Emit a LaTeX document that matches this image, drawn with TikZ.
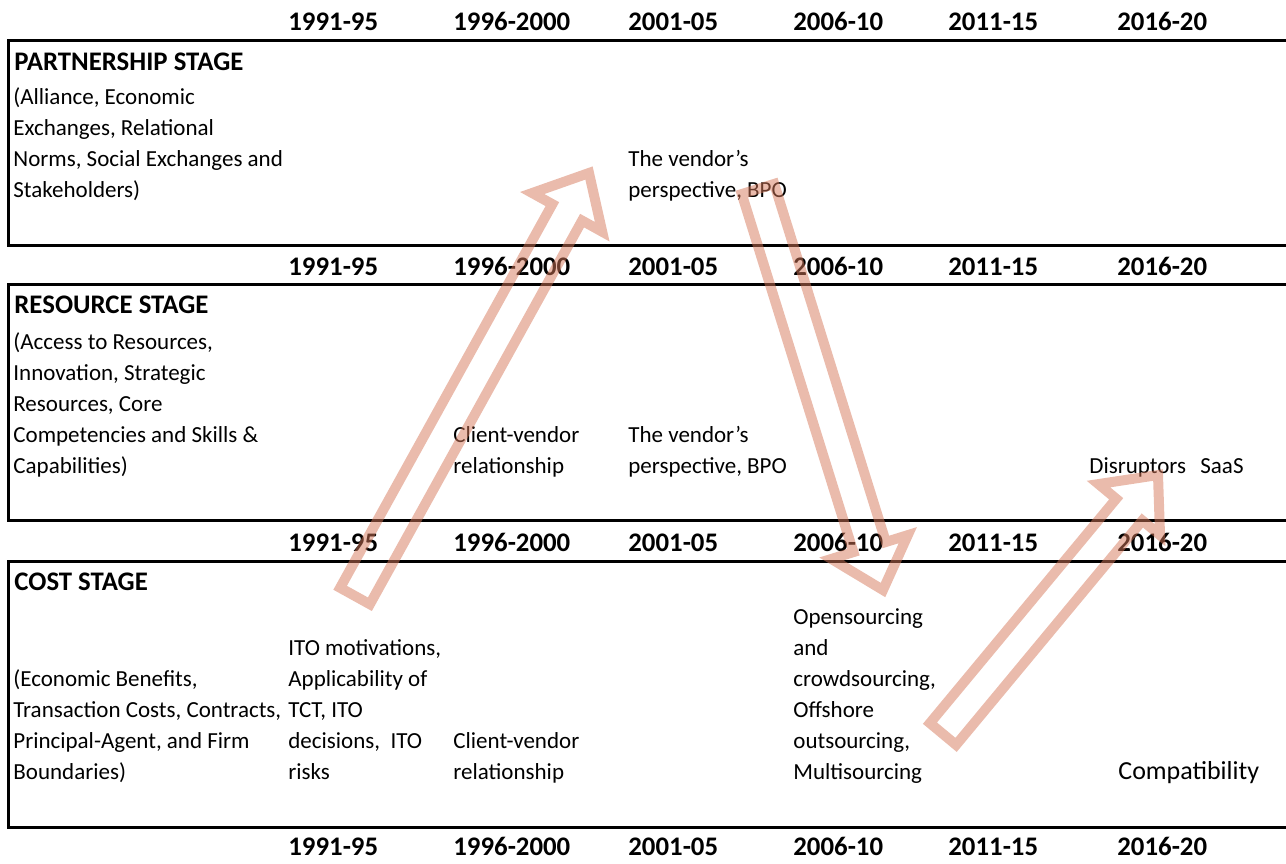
\documentclass[tikz,border=0pt]{standalone}
\usepackage{fontspec}
\setmainfont{Carlito}
\usetikzlibrary{calc}

\definecolor{arrowsalmon}{RGB}{214,120,90}

\tikzset{
  stagebox/.style={line width=1.5pt},
  yearlbl/.style={anchor=base west, inner sep=0pt, font=\fontsize{13.4}{16}\selectfont\bfseries},
  stagetitle/.style={anchor=base west, inner sep=0pt, font=\fontsize{13.4}{16}\selectfont\bfseries},
  celltext/.style={anchor=base west, inner sep=0pt, align=left, font=\fontsize{11.5}{15.5}\selectfont},
  flowarrow/.style={draw=arrowsalmon, draw opacity=0.5, line width=5pt, line join=miter}
}

% hollow block arrow from tail #1 to tip #2
\newcommand{\hollowarrow}[2]{%
  \path ($(#2)!22.5pt!(#1)$) coordinate (#1-base);
  \draw[flowarrow]
    ($(#1)!8.5pt!90:(#2)$) -- ($(#1-base)!8.5pt!90:(#2)$)
    -- ($(#1-base)!20pt!90:(#2)$) -- (#2)
    -- ($(#1-base)!20pt!-90:(#2)$) -- ($(#1-base)!8.5pt!-90:(#2)$)
    -- ($(#1)!8.5pt!-90:(#2)$) -- cycle;
}

\begin{document}
\begin{tikzpicture}[x=0.5pt, y=-0.5pt]
  \useasboundingbox (0,0) rectangle (1286,863);

  % stage boxes (open to the right)
  \draw[stagebox] (1286,40) -- (8,40) -- (8,245) -- (1286,245);
  \draw[stagebox] (1286,284) -- (8,284) -- (8,520) -- (1286,520);
  \draw[stagebox] (1286,561) -- (8,561) -- (8,827) -- (1286,827);

  % year rows
  \foreach \ry in {30,275,551,855}{
    \foreach \yr/\cx [count=\i] in {1991-95/288, 1996-2000/453, 2001-05/628,
                                    2006-10/793, 2011-15/948, 2016-20/1117}
      \node[yearlbl] (yr\ry-\i) at (\cx,\ry) {\yr};
  }

  % Partnership stage (multi-line cells sit on their last line)
  \node[stagetitle] (parttitle) at (14,70) {PARTNERSHIP STAGE};
  \node[celltext] (partdesc) at (13,197) {(Alliance, Economic\\Exchanges, Relational\\Norms, Social Exchanges and\\Stakeholders)};
  \node[celltext] (partvendor) at (628,197) {The vendor’s\\perspective, BPO};

  % Resource stage
  \node[stagetitle] (restitle) at (14,313) {RESOURCE STAGE};
  \node[celltext] (resdesc) at (13,473) {(Access to Resources,\\Innovation, Strategic\\Resources, Core\\Competencies and Skills \&\\Capabilities)};
  \node[celltext] (resclient) at (453,473) {Client-vendor\\relationship};
  \node[celltext] (resvendor) at (628,473) {The vendor’s\\perspective, BPO};
  \node[celltext] (disrupt) at (1089,473) {Disruptors};
  \node[celltext] (saas) at (1200,473) {SaaS};

  % Cost stage
  \node[stagetitle] (costtitle) at (14,590) {COST STAGE};
  \node[celltext] (costdesc) at (13,779) {(Economic Benefits,\\Transaction Costs, Contracts,\\Principal-Agent, and Firm\\Boundaries)};
  \node[celltext] (ito) at (288,779) {ITO motivations,\\Applicability of\\TCT, ITO\\decisions,\ \ ITO\\risks};
  \node[celltext] (costclient) at (453,779) {Client-vendor\\relationship};
  \node[celltext] (sourcing) at (793,779) {Opensourcing\\and\\crowdsourcing,\\Offshore\\outsourcing,\\Multisourcing};
  \node[celltext, font=\fontsize{13}{16}\selectfont] (compat) at (1118,779) {Compatibility};

  % block arrows
  \coordinate (uptail) at (355,596);
  \coordinate (uptip) at (589,173);
  \coordinate (downtail) at (758,189);
  \coordinate (downtip) at (883,590);
  \coordinate (risetail) at (943,734);
  \coordinate (risetip) at (1158,475);
  \hollowarrow{uptail}{uptip}
  \hollowarrow{downtail}{downtip}
  \hollowarrow{risetail}{risetip}
\end{tikzpicture}
\end{document}
